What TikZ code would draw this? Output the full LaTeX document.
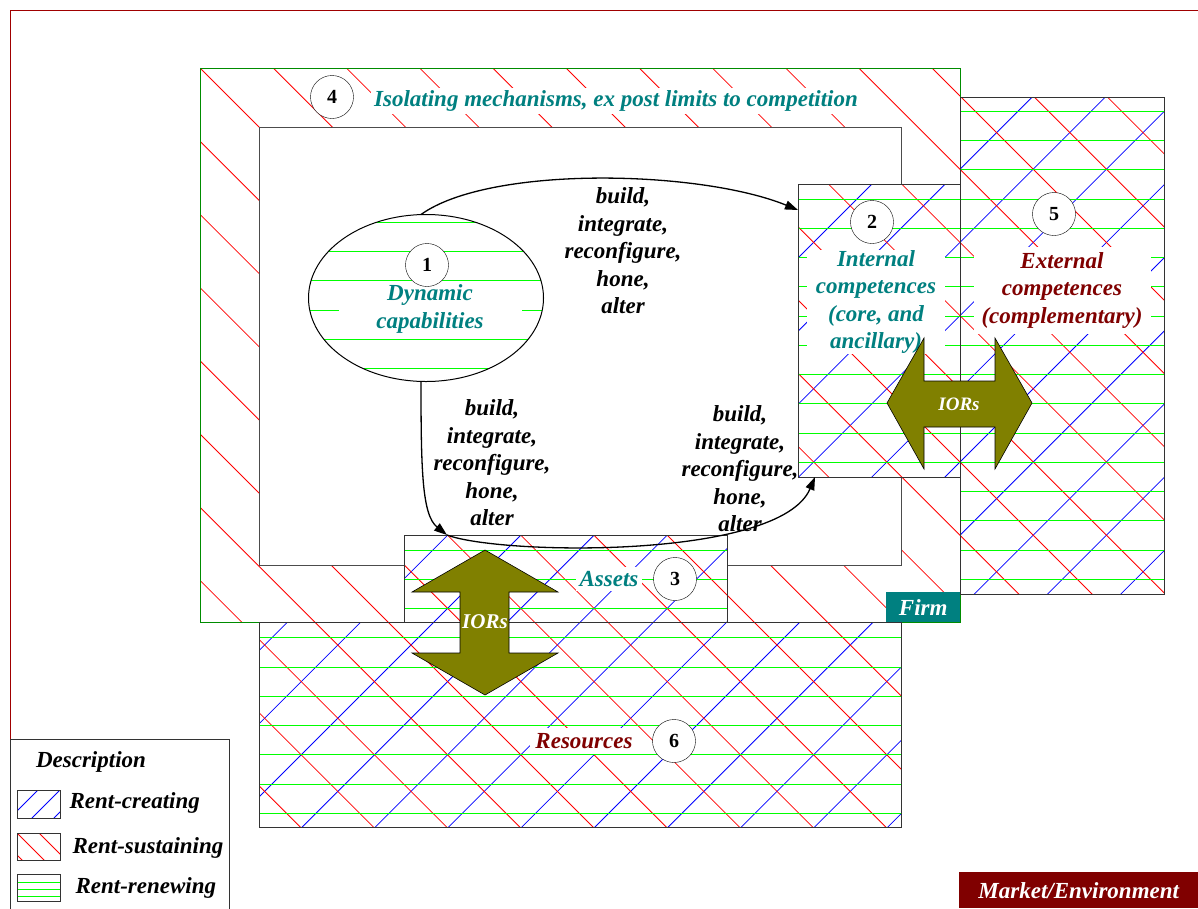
\documentclass[tikz,border=0pt]{standalone}
\usepackage{fontspec}
\setmainfont{Liberation Serif}
\usetikzlibrary{arrows.meta,shapes.geometric}
\definecolor{tealtxt}{RGB}{0,128,128}
\definecolor{maroon}{RGB}{128,0,0}
\definecolor{framered}{RGB}{160,0,0}
\definecolor{iorolive}{RGB}{128,128,0}
\definecolor{hatchgreen}{RGB}{0,255,0}
\definecolor{firmgreen}{RGB}{0,140,0}
% hatchings of the picture (x - y = const, x + y = const, y = const)
\newcommand{\hatchcreate}{\foreach \m in {-14,...,14} \draw[blue,line width=0.8pt] ({1056+73.2*\m},0) -- ++(-908,908);}
\newcommand{\hatchsustain}{\foreach \m in {-14,...,14} \draw[red,line width=0.8pt] ({132+73.2*\m},0) -- ++(908,908);}
\newcommand{\hatchrenew}[1]{\foreach \k in {0,...,30} \draw[hatchgreen,line width=1.7pt] (0,{round(#1+29.25*\k)+0.5}) -- ++(1198,0);}
\tikzset{
  area/.style={rectangle,anchor=north west,inner sep=0pt,outer sep=0pt,fill=white,line width=1pt},
  border/.style={draw=black!80,line width=1pt},
  txt/.style={font=\fontsize{23}{27.5}\selectfont\bfseries\itshape,align=center},
  num/.style={circle,draw,fill=white,minimum size=43pt,inner sep=0pt,font=\fontsize{20}{20}\selectfont\bfseries},
  conn/.style={-{Triangle[length=13pt,width=9pt]},line width=1.3pt},
  ior/.style={fill=iorolive,draw=black,line width=0.6pt},
}
\begin{document}
\begin{tikzpicture}[x=1pt,y=-1pt]
\useasboundingbox (0,0) rectangle (1198,908);
% outer frame
\draw[framered,line width=1pt] (10,908) -- (10,10) -- (1198,10);
% firm
\node[area,minimum width=760pt,minimum height=554pt] (firm) at (200,68) {};
\begin{scope}
  \clip (200,68) rectangle (960,622);
  \hatchsustain
\end{scope}
\draw[firmgreen,line width=1pt] (firm.north west) rectangle (firm.south east);
\node[area,draw=black!70,minimum width=642pt,minimum height=438pt] (inner) at (259,127) {};
% external competences
\node[area,minimum width=204pt,minimum height=497pt] (ext) at (960,97) {};
\begin{scope}
  \clip (960,97) rectangle (1164,594);
  \hatchcreate \hatchsustain \hatchrenew{23}
\end{scope}
\draw[border] (ext.north west) rectangle (ext.south east);
% internal competences
\node[area,minimum width=162pt,minimum height=293pt] (int) at (798,184) {};
\begin{scope}
  \clip (798,184) rectangle (960,477);
  \hatchcreate \hatchsustain \hatchrenew{23}
\end{scope}
\draw[border] (int.north west) rectangle (int.south east);
% resources
\node[area,minimum width=642pt,minimum height=205pt] (res) at (259,622) {};
\begin{scope}
  \clip (259,622) rectangle (901,827);
  \hatchcreate \hatchsustain \hatchrenew{23}
\end{scope}
\draw[border] (res.north west) rectangle (res.south east);
% assets
\node[area,minimum width=323pt,minimum height=87pt] (assets) at (404,535) {};
\begin{scope}
  \clip (404,535) rectangle (727,622);
  \hatchcreate \hatchsustain \hatchrenew{23}
\end{scope}
\draw[border] (assets.north west) rectangle (assets.south east);
% dynamic capabilities
\node[ellipse,fill=white,minimum width=235pt,minimum height=167pt,inner sep=0pt,outer sep=0pt] (dyn) at (426,298) {};
\begin{scope}
  \clip (426,298) ellipse [x radius=117.5,y radius=83.5];
  \hatchrenew{17}
\end{scope}
\draw[line width=1pt] (426,298) ellipse [x radius=117.5,y radius=83.5];

% labels of the areas
\node[txt,text=tealtxt,fill=white,inner sep=3pt] (isoltxt) at (616,101) {Isolating mechanisms, ex post limits to competition};
\node[txt,text=tealtxt,fill=white,minimum width=183pt,minimum height=56pt,inner sep=0pt] (dyntxt) at (430,309) {Dynamic\\capabilities};
\node[txt,text=tealtxt,fill=white,minimum width=138pt,minimum height=100pt,inner sep=0pt] (inttxt) at (876,302) {Internal\\competences\\(core, and\\ancillary)};
\node[txt,text=maroon,fill=white,minimum width=177pt,minimum height=87pt,inner sep=0pt] (exttxt) at (1062,290) {External\\competences\\(complementary)};
\node[txt,text=tealtxt,fill=white,inner sep=4pt] (assetstxt) at (609,579) {Assets};
\node[txt,text=maroon,fill=white,inner sep=5pt] (restxt) at (584,741) {Resources};

% numbers
\node[num] (n1) at (427,265) {1};
\node[num] (n2) at (872,222) {2};
\node[num] (n3) at (675,579) {3};
\node[num] (n4) at (332,97) {4};
\node[num] (n5) at (1054,214) {5};
\node[num] (n6) at (674,741) {6};

% processes
\node[txt] (buildtop) at (623,251) {build,\\integrate,\\reconfigure,\\hone,\\alter};
\node[txt] (buildleft) at (492,463) {build,\\integrate,\\reconfigure,\\hone,\\alter};
\node[txt] (buildright) at (740,469) {build,\\integrate,\\reconfigure,\\hone,\\alter};
\draw[conn] ([xshift=-5pt]dyn.north) .. controls (490,165) and (700,170) .. ([yshift=-26pt]int.north west);
\draw[conn] ([xshift=-5pt]dyn.south) .. controls (421,470) and (422,515) .. ([xshift=43pt]assets.north west);
\draw[conn] ([xshift=43pt]assets.north west) .. controls (500,555) and (780,560) .. ([xshift=17pt]int.south west);

% inter-organisational relations
\draw[ior] (485,550) -- (558,592) -- (509,592) -- (509,653) -- (558,653) -- (485,695)
  -- (412,653) -- (460,653) -- (460,592) -- (412,592) -- cycle;
\node[txt,text=white,font=\fontsize{21}{21}\selectfont\bfseries\itshape] (iorv) at (485,622) {IORs};
\draw[ior] (887,403) -- (924,338) -- (924,381) -- (995,381) -- (995,338) -- (1032,403)
  -- (995,469) -- (995,427) -- (924,427) -- (924,469) -- cycle;
\node[txt,text=white,font=\fontsize{19}{19}\selectfont\bfseries\itshape] (iorh) at (959,404) {IORs};

% tags
\node[txt,anchor=north west,fill=tealtxt,text=white,minimum width=74pt,minimum height=30pt,inner sep=0pt] (firmtag) at (886,592) {Firm};
\node[txt,anchor=north west,fill=maroon,text=white,minimum width=239pt,minimum height=36pt,inner sep=0pt] (mkttag) at (959,872) {Market/Environment};

% legend
\draw[black!80,line width=1pt] (10,910) -- (10,739) -- (229,739) -- (229,910);
\node[txt,text=black] (legtitle) at (91,762) {Description};
\begin{scope}
  \clip (17,790) rectangle (60,818);
  \foreach \m in {-3,...,3} \draw[blue,line width=0.8pt] ({38+22*\m},790) -- ++(-28,28);
\end{scope}
\draw[border] (17,790) rectangle (60,818);
\begin{scope}
  \clip (17,833) rectangle (60,860);
  \foreach \m in {-3,...,3} \draw[red,line width=0.8pt] ({17+22*\m},833) -- ++(28,28);
\end{scope}
\draw[border] (17,833) rectangle (60,860);
\foreach \y in {882.5,889.5,896.5} \draw[hatchgreen,line width=1.5pt] (17,\y) -- (60,\y);
\draw[border] (17,874) rectangle (60,901);
\node[txt,anchor=west] (legcreate) at (66,803) {Rent-creating};
\node[txt,anchor=west] (legsustain) at (69,848) {Rent-sustaining};
\node[txt,anchor=west] (legrenew) at (72,888) {Rent-renewing};
\end{tikzpicture}
\end{document}
